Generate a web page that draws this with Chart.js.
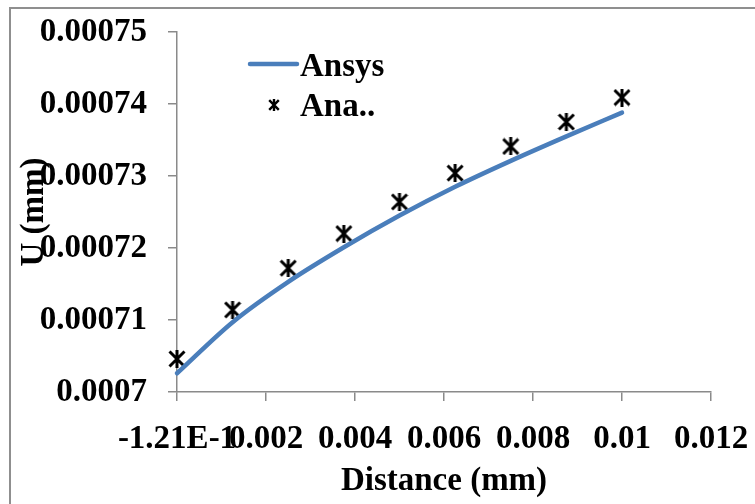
<!DOCTYPE html>
<html>
<head>
<meta charset="utf-8">
<script src="https://cdn.jsdelivr.net/npm/chart.js@4.4.0/dist/chart.umd.min.js"></script>
<style>
    html, body { margin: 0; padding: 0; background: #ffffff; }
    #wrap { width: 755px; height: 504px; position: relative; }
</style>
</head>
<body>
<div id="wrap"><canvas id="chart"></canvas></div>
<script>
// Values
const distance = [0, 0.00125, 0.0025, 0.00375, 0.005, 0.00625, 0.0075, 0.00875, 0.01];
const ansys = [0.0007026, 0.0007097, 0.0007153, 0.0007201, 0.0007245, 0.0007285, 0.0007321, 0.0007355, 0.0007388];
const analytical = [0.0007046, 0.0007114, 0.0007172, 0.000722, 0.0007264, 0.0007304, 0.0007341, 0.0007375, 0.0007409];
const xTickLabels = ['-1.21E-1', '0.002', '0.004', '0.006', '0.008', '0.01', '0.012'];
const yTickLabels = ['0.0007', '0.00071', '0.00072', '0.00073', '0.00074', '0.00075'];

const FONT = '"Liberation Serif", "Times New Roman", serif';
const FONT_SIZE = 33;
const AXIS_GREY = '#8a8a8a';

// Excel style asterisk marker: an X with a vertical bar
function makeStar(size, lw) {
    const c = document.createElement('canvas');
    c.width = size;
    c.height = size;
    const g = c.getContext('2d');
    g.strokeStyle = '#000000';
    g.lineWidth = lw;
    const m = lw / 2;
    const e = size - m;
    const h = size / 2;
    g.beginPath();
    g.moveTo(m, m); g.lineTo(e, e);
    g.moveTo(e, m); g.lineTo(m, e);
    g.moveTo(h, 0); g.lineTo(h, size);
    g.stroke();
    return c;
}

const bigStar = makeStar(18, 3);
const smallStar = makeStar(12, 2.4);

const toPoints = (xs, ys) => xs.map((x, i) => ({ x: x, y: ys[i] }));

// outer frame of the chart (only its left and top edges are in view)
const frame = {
    id: 'frame',
    beforeDraw(chart) {
        const ctx = chart.ctx;
        ctx.save();
        ctx.strokeStyle = '#8f8f8f';
        ctx.lineWidth = 2;
        ctx.strokeRect(10, 8, 800, 600);
        ctx.restore();
    }
};

// legend drawn inside the plot, stacked
const legendBox = {
    id: 'legendBox',
    afterDraw(chart) {
        const ctx = chart.ctx;
        const lineSet = chart.data.datasets[0];
        const pointSet = chart.data.datasets[1];
        ctx.save();
        ctx.strokeStyle = lineSet.borderColor;
        ctx.lineWidth = 4.5;
        ctx.lineCap = 'round';
        ctx.beginPath();
        ctx.moveTo(250, 64);
        ctx.lineTo(297, 64);
        ctx.stroke();
        ctx.drawImage(smallStar, 274 - smallStar.width / 2, 105 - smallStar.height / 2);
        ctx.font = 'bold ' + FONT_SIZE + 'px ' + FONT;
        ctx.fillStyle = '#000000';
        ctx.textBaseline = 'alphabetic';
        ctx.fillText(lineSet.label, 300, 76);
        ctx.fillText(pointSet.label, 300, 116);
        ctx.restore();
    }
};

const ctx = document.getElementById('chart').getContext('2d');

new Chart(ctx, {
    type: 'scatter',
    data: {
        datasets: [{
            label: 'Ansys',
            data: toPoints(distance, ansys),
            showLine: true,
            borderColor: '#4a7ebb',
            backgroundColor: '#4a7ebb',
            borderWidth: 4.5,
            borderCapStyle: 'round',
            cubicInterpolationMode: 'monotone',
            pointRadius: 0,
            clip: false
        }, {
            label: 'Ana..',
            data: toPoints(distance, analytical),
            showLine: false,
            pointStyle: bigStar,
            pointRadius: 9,
            clip: false
        }]
    },
    options: {
        responsive: true,
        maintainAspectRatio: false,
        animation: false,
        layout: {
            padding: { left: 12, top: 32, right: 44, bottom: 0 }
        },
        plugins: {
            legend: { display: false },
            tooltip: { enabled: false }
        },
        scales: {
            x: {
                type: 'linear',
                min: 0,
                max: 0.012,
                afterFit: (scale) => {
                    scale.height = 112;
                    scale.paddingLeft = 0;
                    scale.paddingRight = 0;
                },
                afterBuildTicks: (scale) => {
                    scale.ticks = xTickLabels.map((l, i) => ({ value: i * 0.002 }));
                },
                ticks: {
                    color: '#000000',
                    padding: 19,
                    maxRotation: 0,
                    autoSkip: false,
                    font: { family: FONT, size: FONT_SIZE, weight: 'bold' },
                    callback: (v, i) => xTickLabels[i]
                },
                grid: {
                    drawOnChartArea: false,
                    drawTicks: true,
                    tickLength: 9,
                    color: AXIS_GREY,
                    lineWidth: 1.5
                },
                border: { display: true, color: AXIS_GREY, width: 1.5 },
                title: {
                    display: true,
                    text: 'Distance (mm)',
                    color: '#000000',
                    padding: { top: 0, bottom: 3 },
                    font: { family: FONT, size: FONT_SIZE, weight: 'bold' }
                }
            },
            y: {
                type: 'linear',
                min: 0.0007,
                max: 0.00075,
                afterFit: (scale) => {
                    scale.width = 165;
                    scale.paddingTop = 0;
                    scale.paddingBottom = 0;
                },
                afterBuildTicks: (scale) => {
                    scale.ticks = yTickLabels.map((l, i) => ({ value: 0.0007 + i * 0.00001 }));
                },
                ticks: {
                    color: '#000000',
                    padding: 21,
                    autoSkip: false,
                    font: { family: FONT, size: FONT_SIZE, weight: 'bold' },
                    callback: (v, i) => yTickLabels[i]
                },
                grid: {
                    drawOnChartArea: false,
                    drawTicks: true,
                    tickLength: 9,
                    color: AXIS_GREY,
                    lineWidth: 1.5
                },
                border: { display: true, color: AXIS_GREY, width: 1.5 },
                title: {
                    display: true,
                    text: 'U (mm)',
                    color: '#000000',
                    padding: { top: 3, bottom: 0 },
                    font: { family: FONT, size: FONT_SIZE, weight: 'bold' }
                }
            }
        }
    },
    plugins: [frame, legendBox]
});
</script>
</body>
</html>
